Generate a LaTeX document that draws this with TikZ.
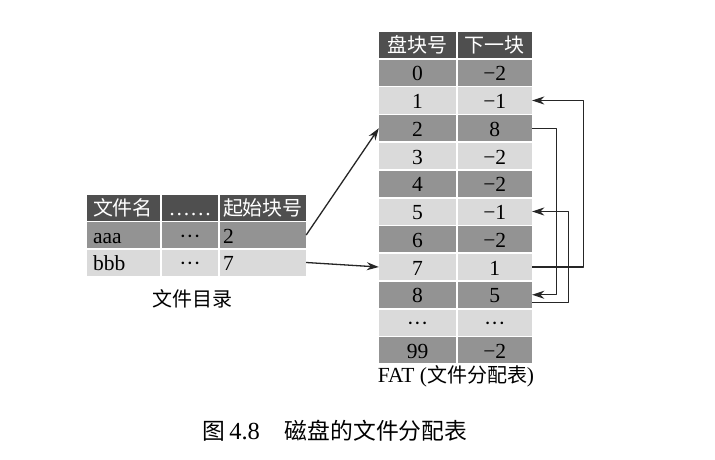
\documentclass[tikz,border=0pt]{standalone}
\usepackage{fontspec}
\setmainfont{Liberation Serif}
\newfontfamily\cjk[Scale=0.93]{Noto Sans CJK SC}
\newcommand\zh[1]{{\cjk #1}}
\usetikzlibrary{arrows.meta}
\definecolor{hdgray}{HTML}{4F4F4F}
\definecolor{dkgray}{HTML}{939393}
\definecolor{ltgray}{HTML}{DADADA}
\tikzset{
  cell/.style={fill=#1, inner sep=0pt, minimum height=26pt, text height=17pt, text depth=1pt},
  hcell/.style={cell=hdgray, text=white},
  link/.style={->, line width=1.3pt, black!85},
}
\begin{document}
\begin{tikzpicture}[x=1pt, y=-1pt, >={Stealth[length=12pt,width=8pt]}, font=\fontsize{21.5}{24}\selectfont, line join=round]
\useasboundingbox[fill=white] (0,0) rectangle (715,460);
% FAT table
\node[hcell, minimum width=77pt] (fh1) at (417.5,45) {\zh{盘块号}};
\node[hcell, minimum width=74.5pt] (fh2) at (494.75,45) {\zh{下一块}};
\foreach \i/\b/\n/\c in {0/0/−2/dkgray, 1/1/−1/ltgray, 2/2/8/dkgray, 3/3/−2/ltgray, 4/4/−2/dkgray, 5/5/−1/ltgray, 6/6/−2/dkgray, 7/7/1/ltgray, 8/8/5/dkgray, 9/···/···/ltgray, 10/99/−2/dkgray}
{
  \node[cell=\c, minimum width=77pt] (fb\i) at (417.5,{45+27.75*(\i+1)}) {\b};
  \node[cell=\c, minimum width=74.5pt] (fn\i) at (494.75,{45+27.75*(\i+1)}) {\n};
}
% directory table
\node[hcell, minimum width=73pt, text width=61pt, align=left] (dh1) at (123.5,207.5) {\zh{文件名}};
\node[hcell, minimum width=56pt] (dh2) at (190,207.5) {……};
\node[hcell, minimum width=86pt, text width=80pt, align=left] (dh3) at (263,207.5) {\zh{起始块号}};
\foreach \r/\nm/\s/\y/\c in {a/aaa/2/235/dkgray, b/bbb/7/262.5/ltgray}
{
  \node[cell=\c, minimum width=73pt, text width=61pt, align=left] (d\r1) at (123.5,\y) {\nm};
  \node[cell=\c, minimum width=56pt] (d\r2) at (190,\y) {···};
  \node[cell=\c, minimum width=86pt, text width=80pt, align=left] (d\r3) at (263,\y) {\s};
}
\node[anchor=base] (dirlbl) at (192.5,306) {\zh{文件目录}};
\node[anchor=base] (fatlbl) at (456,382) {FAT (\zh{文件分配表})};
\node[anchor=base west, font=\fontsize{24.5}{27}\selectfont] (caption) at (199,439.5) {\zh{图}\hspace{4pt}4.8\hspace{25pt}\zh{磁盘的文件分配表}};
% links
\draw[link] (da3.east) -- (fb2.west);
\draw[link] (db3.east) -- (fb7.west);
\draw[link] (fn2.east) -- ++(24,0) |- (fn8.east);
\draw[link] ([yshift=-8pt]fn8.east) -- ++(36,0) |- (fn5.east);
\draw[link] (fn7.east) -- ++(51,0) |- (fn1.east);
\end{tikzpicture}
\end{document}
